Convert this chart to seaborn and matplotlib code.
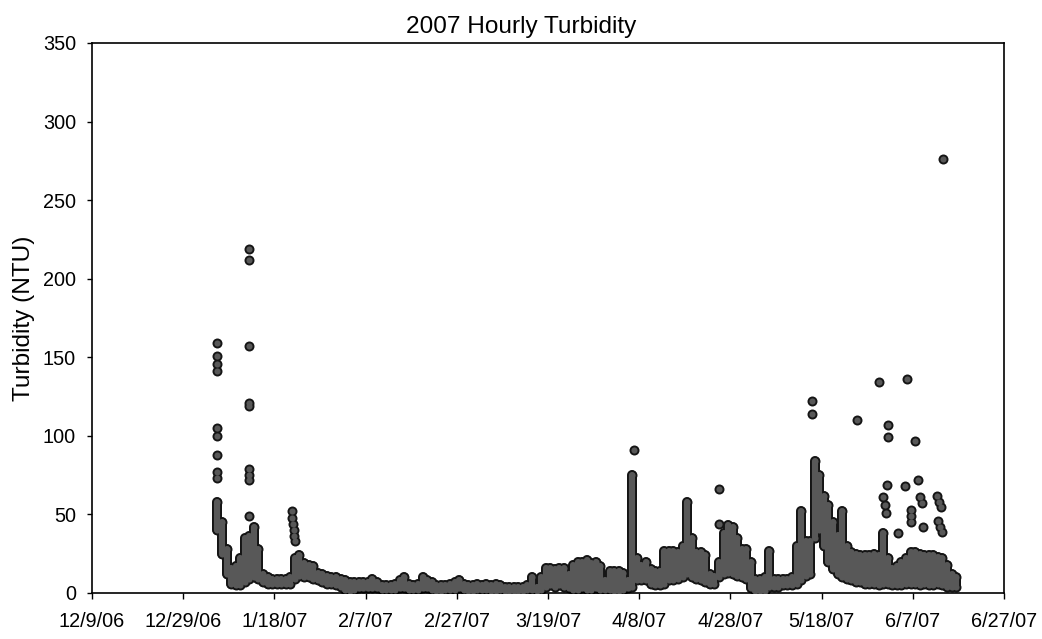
import numpy as np
import pandas as pd
import matplotlib
matplotlib.use("Agg")
import matplotlib.pyplot as plt
from matplotlib.ticker import FuncFormatter, MultipleLocator
import matplotlib.dates as mdates
import seaborn as sns

# ---------------- data ----------------
# Daily range of the hourly readings (NTU), one entry per day starting 2007-01-05
band_start = "2007-01-05 12:00"
band_low = [
    40, 25, 12, 6, 5, 5, 7, 9, 10, 9,        # Jan 5 - Jan 14
    7, 6, 6, 6, 6, 6, 6, 9, 11, 10,          # Jan 15 - Jan 24
    10, 9, 8, 7, 6, 6, 5, 4, 2, 1,           # Jan 25 - Feb 3
    2, 3, 3, 3, 3, 3, 2, 2, 2, 2,            # Feb 4 - Feb 13
    3, 3, 2, 2, 2, 3, 3, 2, 1, 1,            # Feb 14 - Feb 23
    2, 2, 2, 3, 2, 1, 1, 2, 2, 2,            # Feb 24 - Mar 5
    1, 1, 2, 1, 1, 1, 1, 1, 2, 2,            # Mar 6 - Mar 15
    1, 2, 4, 5, 4, 5, 4, 3, 2, 2,            # Mar 16 - Mar 25
    3, 2, 2, 3, 2, 2, 2, 1, 1, 2,            # Mar 26 - Apr 4
    3, 4, 8, 8, 8, 6, 5, 5, 6, 8,            # Apr 5 - Apr 14
    8, 9, 10, 12, 10, 9, 8, 7, 6, 6,         # Apr 15 - Apr 24
    10, 12, 13, 12, 11, 10, 9, 3, 1, 1,      # Apr 25 - May 4
    1, 4, 4, 4, 5, 5, 5, 6, 8, 11,           # May 5 - May 14
    12, 35, 40, 30, 20, 15, 12, 10, 9, 8,    # May 15 - May 24
    7, 7, 6, 6, 6, 5, 6, 6, 5, 5,            # May 25 - Jun 3
    5, 6, 6, 6, 5, 6, 5, 5, 6, 5,            # Jun 4 - Jun 13
    4, 4, 4,                                 # Jun 14 - Jun 16
]
band_high = [
    58, 45, 28, 16, 17, 22, 35, 36, 42, 28,
    12, 10, 9, 9, 9, 9, 10, 22, 24, 19,
    18, 17, 13, 12, 11, 10, 10, 9, 8, 7,
    7, 7, 7, 7, 9, 7, 5, 5, 5, 6,
    8, 10, 6, 5, 6, 10, 8, 7, 5, 5,
    5, 6, 7, 8, 6, 5, 5, 6, 5, 6,
    5, 6, 5, 4, 4, 4, 4, 4, 5, 10,
    4, 10, 16, 16, 15, 16, 16, 12, 18, 20,
    20, 21, 19, 20, 17, 8, 14, 14, 14, 13,
    8, 75, 22, 18, 20, 15, 14, 14, 27, 27,
    27, 26, 30, 58, 35, 26, 26, 24, 12, 11,
    20, 38, 43, 42, 35, 28, 28, 20, 9, 9,
    10, 27, 9, 9, 9, 9, 10, 30, 52, 33,
    33, 84, 75, 62, 56, 45, 37, 52, 30, 26,
    25, 24, 24, 24, 25, 24, 38, 22, 16, 17,
    20, 22, 26, 26, 25, 24, 24, 24, 23, 22,
    18, 12, 10,
]

# Isolated high readings
spike_times = [
    "2007-01-05 10:00", "2007-01-05 10:00", "2007-01-05 10:00", "2007-01-05 10:00",
    "2007-01-05 10:00", "2007-01-05 10:00", "2007-01-05 10:00", "2007-01-05 10:00",
    "2007-01-05 10:00",
    "2007-01-12 10:00", "2007-01-12 10:00", "2007-01-12 10:00", "2007-01-12 10:00",
    "2007-01-12 10:00", "2007-01-12 10:00", "2007-01-12 10:00", "2007-01-12 10:00",
    "2007-01-12 12:00",
    "2007-01-21 20:00", "2007-01-21 23:00", "2007-01-22 02:00", "2007-01-22 05:00",
    "2007-01-22 08:00", "2007-01-22 10:00",
    "2007-04-06 22:00",
    "2007-04-25 10:00", "2007-04-25 10:00",
    "2007-05-15 19:00", "2007-05-15 19:00",
    "2007-05-25 17:00",
    "2007-05-30 14:00",
    "2007-05-31 12:00", "2007-05-31 20:00", "2007-06-01 04:00",
    "2007-06-01 07:00", "2007-06-01 12:00", "2007-06-01 12:00",
    "2007-06-03 19:00",
    "2007-06-05 07:00", "2007-06-05 19:00",
    "2007-06-06 17:00", "2007-06-06 17:00", "2007-06-06 17:00",
    "2007-06-07 12:00",
    "2007-06-08 05:00", "2007-06-08 14:00", "2007-06-08 22:00", "2007-06-09 05:00",
    "2007-06-12 08:00", "2007-06-12 20:00", "2007-06-13 06:00",
    "2007-06-12 12:00", "2007-06-13 00:00", "2007-06-13 10:00",
    "2007-06-13 14:00",
]
spike_values = [
    159, 151, 146, 141, 105, 100, 88, 77, 73,
    219, 212, 157, 121, 119, 79, 75, 72,
    49,
    52, 48, 44, 40, 36, 33,
    91,
    66, 44,
    122, 114,
    110,
    134,
    61, 56, 51,
    69, 107, 99,
    38,
    68, 136,
    53, 49, 45,
    97,
    72, 61, 57, 42,
    62, 58, 55,
    46, 42, 39,
    276,
]

# ---------------- plotting ----------------
sns.set_theme(style="white")
plt.rcParams['font.family'] = ['Liberation Sans', 'DejaVu Sans']

band_dates = pd.date_range(band_start, periods=len(band_low), freq="D")
band = pd.DataFrame({"time": band_dates, "low": band_low, "high": band_high})
ends = pd.concat([
    pd.DataFrame({"time": band["time"], "NTU": band["low"]}),
    pd.DataFrame({"time": band["time"], "NTU": band["high"]}),
    pd.DataFrame({"time": pd.to_datetime(spike_times), "NTU": spike_values}),
], ignore_index=True)

fig = plt.figure(figsize=(10.42, 6.39), dpi=100)
ax = fig.add_axes([92 / 1042, 1 - 593 / 639, 912 / 1042, 550 / 639])

edge_col = "#151515"
fill_col = "#585858"
outer_pt = 7.2
inner_pt = 4.4

# outline layer
lc1 = ax.vlines(band["time"], band["low"], band["high"], colors=edge_col,
                linewidth=outer_pt, zorder=1)
lc1.set_capstyle("round")
sns.scatterplot(data=ends, x="time", y="NTU", s=outer_pt ** 2, color=edge_col,
                linewidth=0, ax=ax, zorder=2, legend=False)
# fill layer
lc2 = ax.vlines(band["time"], band["low"], band["high"], colors=fill_col,
                linewidth=inner_pt, zorder=3)
lc2.set_capstyle("round")
sns.scatterplot(data=ends, x="time", y="NTU", s=inner_pt ** 2, color=fill_col,
                linewidth=0, ax=ax, zorder=4, legend=False)

x_ticks = pd.date_range("2006-12-09", "2007-06-27", freq="20D")
ax.set_xlim(x_ticks[0], x_ticks[-1])
ax.set_xticks(x_ticks)


def fmt_date(x, pos):
    d = mdates.num2date(x)
    return f"{d.month}/{d.day}/{d.year % 100:02d}"


ax.xaxis.set_major_formatter(FuncFormatter(fmt_date))
ax.set_ylim(0, 350)
ax.yaxis.set_major_locator(MultipleLocator(50))

ax.set_xlabel("")
ax.set_ylabel("")
for sp in ax.spines.values():
    sp.set_visible(True)
    sp.set_color("black")
    sp.set_linewidth(1.2)

ax.tick_params(axis="x", bottom=True, direction="out", length=4.3, width=1,
               color="black", labelsize=14.3, pad=9.5, labelcolor="black")
ax.tick_params(axis="y", left=True, direction="out", length=3.6, width=1,
               color="black", labelsize=14.3, pad=8, labelcolor="black")
ax.grid(False)

fig.text(0.5, 1 - 33 / 639, "2007 Hourly Turbidity", fontsize=17.6,
         ha="center", va="baseline", color="black")
fig.text(24.5 / 1042, 1 - 318 / 639, "Turbidity (NTU)", fontsize=17.6,
         rotation=90, ha="center", va="center", color="black")

fig.savefig("out.png", dpi=100)
